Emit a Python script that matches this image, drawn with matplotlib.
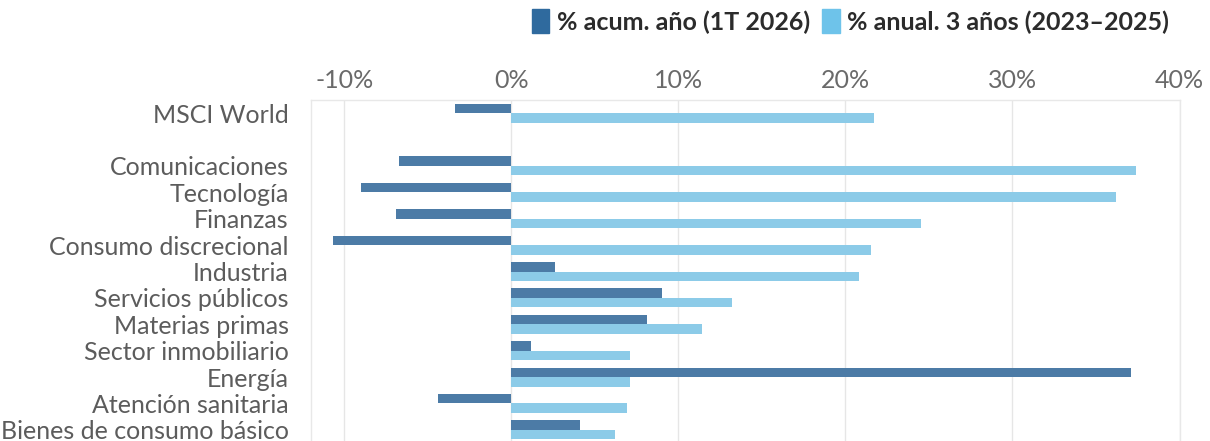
import matplotlib.pyplot as plt
from matplotlib.patches import Patch
import numpy as np

categorias = ['MSCI World', '', 'Comunicaciones', 'Tecnología', 'Finanzas',
              'Consumo discrecional', 'Industria', 'Servicios públicos',
              'Materias primas', 'Sector inmobiliario', 'Energía',
              'Atención sanitaria', 'Bienes de consumo básico']
acum_1t = [-3.4, None, -6.7, -9.0, -6.9, -10.7, 2.6, 9.0, 8.1, 1.2, 37.1, -4.4, 4.1]
anual_3a = [21.7, None, 37.4, 36.2, 24.5, 21.5, 20.8, 13.2, 11.4, 7.1, 7.1, 6.9, 6.2]
ticks = [-10, 0, 10, 20, 30, 40]

col_dark = '#4c7ba6'
col_light = '#8ccbe8'

plt.rcParams['font.family'] = ['Lato', 'DejaVu Sans']

fig = plt.figure(figsize=(12.1, 4.41), dpi=100)
ax = fig.add_axes([0.257, -0.0045, 0.7178, 0.7777])

y = np.arange(len(categorias))
h = 0.36
for i in y:
    if acum_1t[i] is None:
        continue
    ax.barh(i - h / 2, acum_1t[i], height=h, color=col_dark, zorder=3)
    ax.barh(i + h / 2, anual_3a[i], height=h, color=col_light, zorder=3)

ax.set_xlim(-12, 40)
ax.set_ylim(len(categorias) - 0.5, -0.5)
ax.set_yticks(y)
ax.set_yticklabels(categorias, fontsize=18, color='#5c5c5c')
ax.set_xticks(ticks)
ax.set_xticklabels([f'{t}%' for t in ticks], fontsize=18, color='#6a6a6a')
ax.xaxis.tick_top()
ax.tick_params(axis='both', length=0)
ax.tick_params(axis='x', pad=6)
ax.tick_params(axis='y', pad=16)
ax.grid(axis='x', color='#e6e6e6', linewidth=1, zorder=0)
for s in ax.spines.values():
    s.set_color('#e8e8e8')
    s.set_linewidth(1)

handles = [Patch(color='#2f6a9e', label='% acum. año (1T 2026)'),
           Patch(color='#6ec3ea', label='% anual. 3 años (2023–2025)')]
fig.legend(handles=handles, loc='upper right', bbox_to_anchor=(0.985, 1.03),
           ncol=2, frameon=False, prop={'size': 18, 'weight': 'bold'},
           handlelength=0.7, handleheight=1.1, handletextpad=0.3,
           columnspacing=0.5, labelcolor='#2b2b2b')

fig.savefig('out.png')
